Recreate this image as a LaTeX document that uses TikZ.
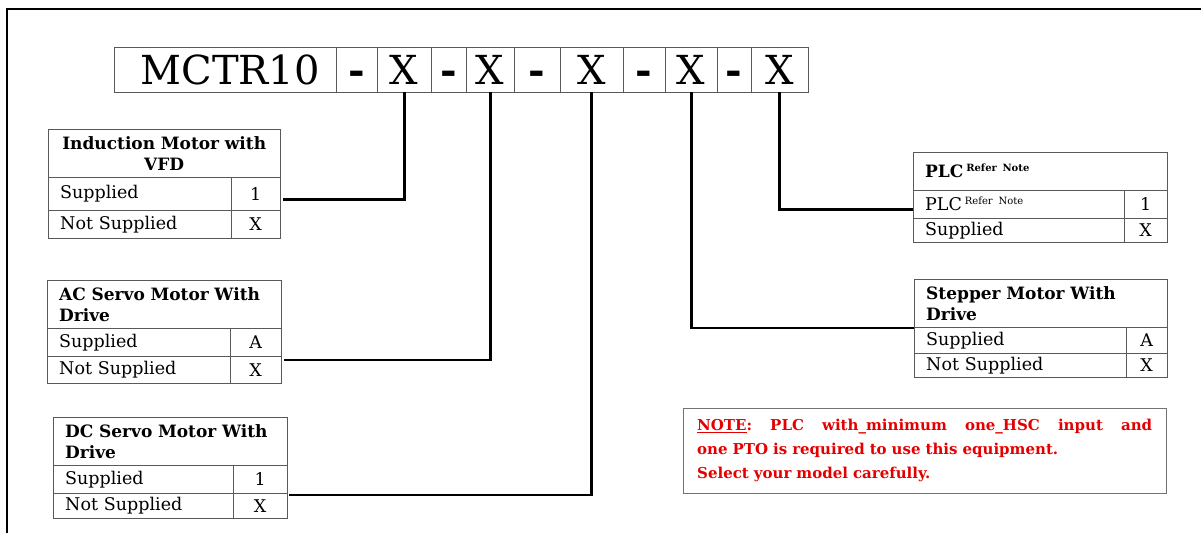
\documentclass[tikz,border=0pt]{standalone}
\usepackage{fontspec}
\setmainfont{DejaVu Serif}
\usetikzlibrary{calc}
\definecolor{notered}{RGB}{228,0,0}
\newcommand{\refnote}{\raisebox{6pt}{\fontsize{10}{10}\selectfont Refer Note}}

\begin{document}
\begin{tikzpicture}[x=1pt, y=-1pt,
    code/.style ={rectangle, draw=black!65, anchor=north west, minimum height=45pt, inner sep=0pt, font=\fontsize{40}{40}\selectfont},
    head/.style ={rectangle, draw=black!65, anchor=north west, inner xsep=12pt, inner ysep=0pt, align=left, font=\bfseries\fontsize{17}{21}\selectfont},
    row/.style  ={rectangle, draw=black!65, anchor=north west, inner xsep=12pt, inner ysep=0pt, align=left, font=\fontsize{17.5}{18}\selectfont},
    val/.style  ={rectangle, draw=black!65, anchor=north west, inner sep=0pt, font=\fontsize{17.5}{18}\selectfont},
    link/.style ={-, draw, color=black, line width=2.6pt},
    note/.style ={rectangle, draw=black!55, anchor=north west, text width=455pt, inner xsep=14pt, inner ysep=0pt,
                  minimum height=85pt, align=left, text=notered, font=\bfseries\fontsize{15}{24}\selectfont}]

      \useasboundingbox (0,0) rectangle (1201,533);
      \draw[line width=2.5pt] (7,533) -- (7,9) -- (1201,9);

      % model code
      \node[code, minimum width=222pt] at (114,47) (model) {\vphantom{X}\hspace{10pt}MCTR10};
      \node[code, minimum width=41pt]  at (336,47) (d1)    {\vphantom{X}\textbf{-}};
      \node[code, minimum width=54pt]  at (377,47) (x1)    {\vphantom{X}X};
      \node[code, minimum width=35pt]  at (431,47) (d2)    {\vphantom{X}\textbf{-}};
      \node[code, minimum width=48pt]  at (466,47) (x2)    {\vphantom{X}X};
      \node[code, minimum width=46pt]  at (514,47) (d3)    {\vphantom{X}\textbf{-}};
      \node[code, minimum width=63pt]  at (560,47) (x3)    {\vphantom{X}X};
      \node[code, minimum width=42pt]  at (623,47) (d4)    {\vphantom{X}\textbf{-}};
      \node[code, minimum width=52pt]  at (665,47) (x4)    {\vphantom{X}X};
      \node[code, minimum width=34pt]  at (717,47) (d5)    {\vphantom{X}\textbf{-}};
      \node[code, minimum width=57pt]  at (751,47) (x5)    {\vphantom{X}X};

      % induction motor
      \node[head, text width=208pt, minimum height=48pt, align=center] at (48,129) (indhead) {Induction Motor with\\VFD};
      \node[row, text width=159pt, minimum height=33pt] at (48,177)  (indsup)  {Supplied};
      \node[val, minimum width=49pt, minimum height=33pt] at (231,177) (indsupv) {1};
      \node[row, text width=159pt, minimum height=28pt] at (48,210)  (indnot)  {Not Supplied};
      \node[val, minimum width=49pt, minimum height=28pt] at (231,210) (indnotv) {X};

      % ac servo
      \node[head, text width=210pt, minimum height=48pt] at (47,280) (achead) {AC Servo Motor With\\Drive};
      \node[row, text width=159pt, minimum height=28pt] at (47,328)  (acsup)  {Supplied};
      \node[val, minimum width=51pt, minimum height=28pt] at (230,328) (acsupv) {A};
      \node[row, text width=159pt, minimum height=27pt] at (47,356)  (acnot)  {Not Supplied};
      \node[val, minimum width=51pt, minimum height=27pt] at (230,356) (acnotv) {X};

      % dc servo
      \node[head, text width=210pt, minimum height=48pt] at (53,417) (dchead) {DC Servo Motor With\\Drive};
      \node[row, text width=156pt, minimum height=28pt] at (53,465)  (dcsup)  {Supplied};
      \node[val, minimum width=54pt, minimum height=28pt] at (233,465) (dcsupv) {1};
      \node[row, text width=156pt, minimum height=25pt] at (53,493)  (dcnot)  {Not Supplied};
      \node[val, minimum width=54pt, minimum height=25pt] at (233,493) (dcnotv) {X};

      % plc
      \node[head, text width=230pt, minimum height=38pt] at (913,152) (plchead) {PLC\,\refnote};
      \node[row, text width=187pt, minimum height=28pt] at (913,190)  (plcrow)  {PLC\,\refnote};
      \node[val, minimum width=43pt, minimum height=28pt] at (1124,190) (plcrowv) {1};
      \node[row, text width=187pt, minimum height=24pt] at (913,218)  (plcsup)  {Supplied};
      \node[val, minimum width=43pt, minimum height=24pt] at (1124,218) (plcsupv) {X};

      % stepper
      \node[head, text width=229pt, minimum height=48pt] at (914,279) (stephead) {Stepper Motor With\\Drive};
      \node[row, text width=188pt, minimum height=26pt] at (914,327)  (stepsup)  {Supplied};
      \node[val, minimum width=41pt, minimum height=26pt] at (1126,327) (stepsupv) {A};
      \node[row, text width=188pt, minimum height=24pt] at (914,353)  (stepnot)  {Not Supplied};
      \node[val, minimum width=41pt, minimum height=24pt] at (1126,353) (stepnotv) {X};

      % note
      \node[note] at (683,408) (notebox) {\makebox[455pt][l]{\underline{NOTE}:\hfill PLC\hfill with\_minimum\hfill one\_HSC\hfill input\hfill and}\\
        one PTO is required to use this equipment.\\Select your model carefully.};

      \path[link] (x1.south) |- ($(indsupv.east)+(3,6)$);
      \path[link] (x2.south) |- ($(acnotv.north east)+(3,4)$);
      \path[link] (x3.south) |- ($(dcnotv.north east)+(2,2)$);
      \path[link] (x4.south) |- ($(stepsup.north west)+(0,1)$);
      \path[link] (x5.south) |- ($(plcrow.west)+(0,5)$);
    \end{tikzpicture}
\end{document}
